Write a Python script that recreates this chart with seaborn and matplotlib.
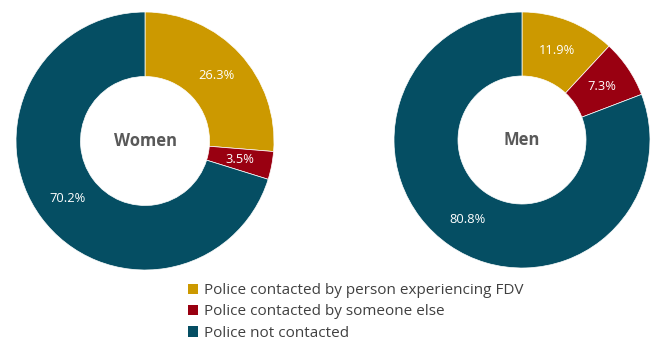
import matplotlib
matplotlib.use("Agg")
import matplotlib.pyplot as plt
from matplotlib.patches import Patch
import numpy as np
import seaborn as sns

sns.set_theme(style="white")
plt.rcParams["font.family"] = ["Open Sans", "DejaVu Sans"]

categories = [
    "Police contacted by person experiencing FDV",
    "Police contacted by someone else",
    "Police not contacted",
]
women_values = [26.3, 3.5, 70.2]
men_values = [11.9, 7.3, 80.8]
groups = ["Women", "Men"]
colors = ["#CC9900", "#990011", "#054E63"]

W, H = 656, 340
fig = plt.figure(figsize=(W / 100, H / 100), dpi=100)


def donut(cx, cy, r, values, title):
    ax = fig.add_axes([(cx - r) / W, 1 - (cy + r) / H, 2 * r / W, 2 * r / H])
    ax.pie(
        values, colors=colors, startangle=90, counterclock=False,
        radius=1.0, wedgeprops=dict(width=0.5, edgecolor="white", linewidth=0.5),
    )
    total = sum(values)
    start = 90.0
    for v in values:
        mid = np.deg2rad(start - v / total * 360 / 2)
        start -= v / total * 360
        ax.text(0.75 * np.cos(mid), 0.75 * np.sin(mid), f"{v:.1f}%",
                ha="center", va="center", color="white", fontsize=9.3)
    ax.text(0, 0, title, ha="center", va="center", fontsize=12,
            fontweight="bold", color="#595959")
    ax.set_xlim(-1, 1)
    ax.set_ylim(-1, 1)
    ax.set_aspect("equal")
    ax.axis("off")


donut(145, 141, 129, women_values, groups[0])
donut(522, 140, 128, men_values, groups[1])

handles = [Patch(facecolor=c, edgecolor="none") for c in colors]
fig.legend(
    handles, categories, loc="upper left",
    bbox_to_anchor=(188 / W, 1 - 283 / H), frameon=False,
    fontsize=11, handlelength=0.65, handleheight=0.65, handletextpad=0.4,
    labelspacing=0.42, borderaxespad=0, borderpad=0, labelcolor="#404040",
)

fig.savefig("out.png", dpi=100)
